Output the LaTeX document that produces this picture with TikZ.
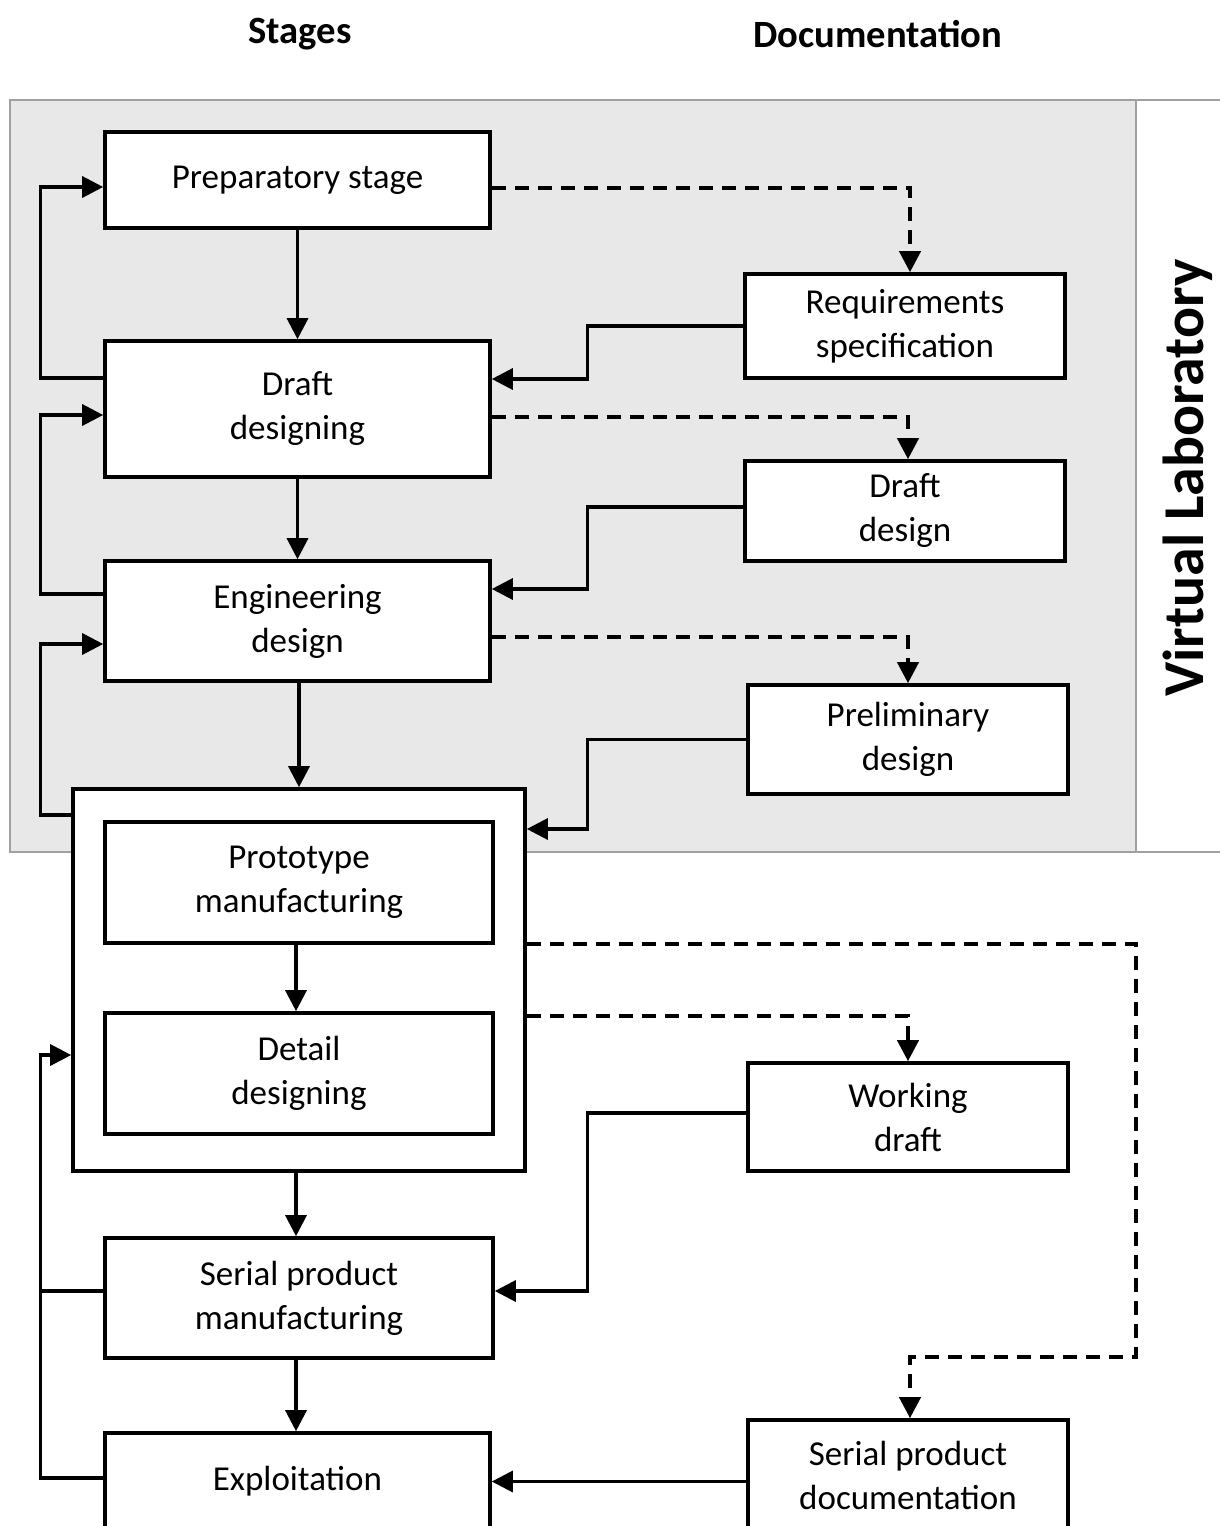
\documentclass[tikz,border=0pt]{standalone}
\usepackage{fontspec}
\setmainfont{Carlito}
\usetikzlibrary{arrows.meta,calc}
\definecolor{labgrey}{HTML}{E8E8E8}
\definecolor{frame}{HTML}{A0A0A0}
\tikzset{
  stagebox/.style={draw, fill=white, line width=1.8pt, align=center, inner sep=0pt,
    font=\fontsize{17.5}{22}\selectfont},
  arr/.style={line width=1.6pt, -{Triangle[length=10.5pt,width=10.5pt]}},
  link/.style={line width=1.6pt},
  docarr/.style={line width=2pt, dash pattern=on 7pt off 4.5pt,
    -{Triangle[length=10.5pt,width=10.5pt]}},
  heading/.style={font=\bfseries\fontsize{19.3}{23}\selectfont}
}
\begin{document}
\begin{tikzpicture}[x=0.5pt,y=-0.5pt]
\useasboundingbox (0,0) rectangle (1220,1526);
\clip (0,0) rectangle (1220,1526);

% column headings
\node[heading] (hstages) at (300,34) {Stages};
\node[heading] (hdocs) at (878,34) {Documentation};

% virtual laboratory band
\fill[labgrey] (10,100) rectangle (1136,852);
\draw[frame, line width=1pt] (10,100) rectangle (1136,852);
\draw[frame, line width=1pt] (1136,100) -- (1220,100) (1136,852) -- (1220,852);
\node[rotate=90, font=\bfseries\fontsize{28.9}{34}\selectfont] (vlab) at (1188,478) {Virtual Laboratory};

% stages
\node[stagebox, minimum width=192.5pt, minimum height=48pt] (prep) at (297.5,180) {Preparatory stage};
\node[stagebox, minimum width=192.5pt, minimum height=68pt] (dd) at (297.5,409) {Draft\\designing};
\node[stagebox, minimum width=192.5pt, minimum height=60pt] (eng) at (297.5,621) {Engineering\\design};
\node[stagebox, minimum width=226pt, minimum height=191pt] (outer) at (299,980) {};
\node[stagebox, minimum width=194pt, minimum height=60.5pt] (proto) at (299,882.5) {Prototype\\manufacturing};
\node[stagebox, minimum width=194pt, minimum height=60.5pt] (detail) at (299,1073.5) {Detail\\designing};
\node[stagebox, minimum width=194pt, minimum height=60pt] (serial) at (299,1298) {Serial product\\manufacturing};
\node[stagebox, minimum width=192.5pt, minimum height=48.5pt] (expl) at (297.5,1481.5) {Exploitation};

% documentation
\node[stagebox, minimum width=160pt, minimum height=52pt] (req) at (905,326) {Requirements\\specification};
\node[stagebox, minimum width=160pt, minimum height=50pt] (ddoc) at (905,511) {Draft\\design};
\node[stagebox, minimum width=160pt, minimum height=54.5pt] (prelim) at (908,739.5) {Preliminary\\design};
\node[stagebox, minimum width=160pt, minimum height=54pt] (work) at (908,1117) {Working\\draft};
\node[stagebox, minimum width=160pt, minimum height=55pt] (sdoc) at (908,1475) {Serial product\\documentation};

% main flow
\draw[arr] (prep.south) -- (dd.north);
\draw[arr] (dd.south) -- (eng.north);
\draw[arr] (eng.south -| outer.north) -- (outer.north);
\draw[arr] ($(proto.south)+(-3,0)$) -- ($(detail.north)+(-3,0)$);
\draw[arr] ($(outer.south)+(-3,0)$) -- ($(serial.north)+(-3,0)$);
\draw[arr] ($(serial.south)+(-3,0)$) -- ($(expl.north)+(-1.5,0)$);

% feedback loops on the left
\draw[arr] ($(dd.west)+(0,-31)$) -- ++(-63,0) |- ($(prep.west)+(0,7)$);
\draw[arr] ($(eng.west)+(0,-27)$) -- ++(-63,0) |- ($(dd.west)+(0,6)$);
\draw[arr] ($(outer.west)+(0,-165)$) -- ++(-31,0) |- ($(outer.west)+(0,-336)$) -- ($(eng.west)+(0,23)$);
\draw[arr] ($(expl.west)+(0,-3.5)$) -- ++(-63,0) |- ($(outer.west)+(0,75)$);
\draw[link] ($(serial.west)+(0,-7)$) -- ++(-63,0);

% documents feeding the stages
\draw[arr] (req.west) -- ++(-156,0) |- ($(dd.east)+(0,-30)$);
\draw[arr] ($(ddoc.west)+(0,-4)$) -- ++(-156,0) |- ($(eng.east)+(0,-32)$);
\draw[arr] (prelim.west) -- ++(-159,0) |- ($(outer.east)+(0,-151)$);
\draw[arr] ($(work.west)+(0,-4)$) -- ++(-159,0) |- ($(serial.east)+(0,-7)$);
\draw[arr] (sdoc.west |- expl.east) -- (expl.east);

% stages producing documents
\draw[docarr] ($(prep.east)+(0,8)$) -| ($(req.north)+(5,0)$);
\draw[docarr] ($(dd.east)+(0,8)$) -| ($(ddoc.north)+(3,0)$);
\draw[docarr] ($(eng.east)+(0,16)$) -| (prelim.north);
\draw[docarr] ($(outer.east)+(0,36)$) -| (work.north);
\draw[docarr] ($(outer.east)+(0,-36)$) -- ++(609,0) -- ++(0,413) -| ($(sdoc.north)+(2,0)$);
\end{tikzpicture}
\end{document}
